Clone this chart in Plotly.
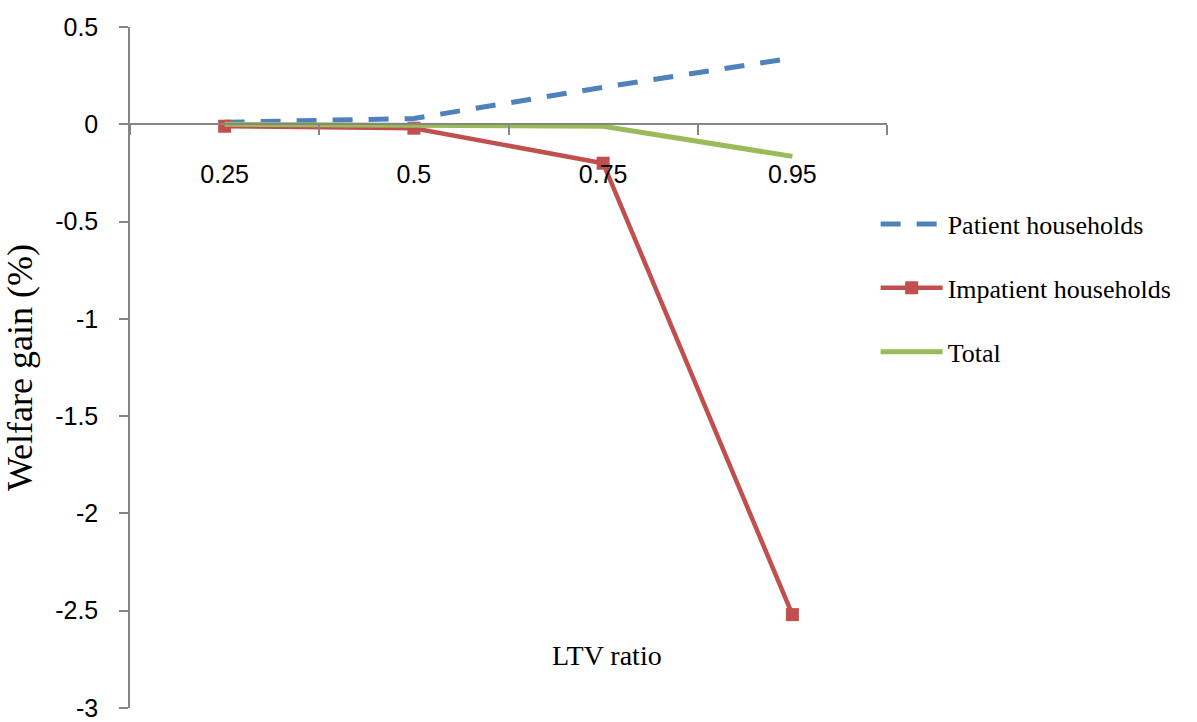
import plotly.graph_objects as go

# LTV ratio categories and welfare gains (%)
ltv_labels = ["0.25", "0.5", "0.75", "0.95"]
patient = [0.01, 0.03, 0.19, 0.34]
impatient = [-0.01, -0.02, -0.20, -2.52]
total = [0.0, -0.005, -0.01, -0.165]

y_ticks = [0.5, 0, -0.5, -1, -1.5, -2, -2.5, -3]
y_tick_text = ["0.5", "0", "-0.5", "-1", "-1.5", "-2", "-2.5", "-3"]

BLUE = "#4F81BD"
RED = "#C0504D"
GREEN = "#9BBB59"
AXIS = "#868686"

fig = go.Figure()
fig.add_trace(go.Scatter(
    x=ltv_labels, y=patient, mode="lines", name="Patient households",
    line=dict(color=BLUE, width=5, dash="20px,16px"),
    legendgroup="a",
))
fig.add_trace(go.Scatter(
    x=ltv_labels, y=impatient, mode="lines+markers", name="Impatient households",
    line=dict(color=RED, width=4.5),
    marker=dict(symbol="square", size=13, color=RED),
    legendgroup="b",
))
fig.add_trace(go.Scatter(
    x=ltv_labels, y=total, mode="lines", name="Total",
    line=dict(color=GREEN, width=5),
    legendgroup="c",
))

y_min, y_max = -3, 0.5
zero_pos = (0 - y_min) / (y_max - y_min)

fig.update_layout(
    width=1197, height=722,
    margin=dict(l=130, r=310, t=27, b=14),
    paper_bgcolor="white", plot_bgcolor="white",
    showlegend=True,
    legend=dict(
        x=0.985, xanchor="left", y=0.745, yanchor="top",
        font=dict(family="Liberation Serif", size=26, color="black"),
        traceorder="grouped", tracegroupgap=27,
        itemwidth=62, bgcolor="rgba(0,0,0,0)",
    ),
    xaxis=dict(
        type="category", range=[-0.5, 3.5],
        anchor="free", position=zero_pos, automargin=False,
        showline=True, linecolor=AXIS, linewidth=1.5,
        ticks="outside", tickson="boundaries", ticklen=10, tickcolor=AXIS, tickwidth=1.5,
        ticklabelstandoff=28,
        tickfont=dict(family="Liberation Sans", size=25, color="black"),
        showgrid=False, zeroline=False,
    ),
    yaxis=dict(
        range=[y_min, y_max], automargin=False,
        tickvals=y_ticks, ticktext=y_tick_text,
        showline=True, linecolor=AXIS, linewidth=1.5,
        ticks="outside", ticklen=9, tickcolor=AXIS, tickwidth=1.5,
        ticklabelstandoff=16,
        tickfont=dict(family="Liberation Sans", size=25, color="black"),
        showgrid=False, zeroline=False,
        title=dict(text="Welfare gain (%)", standoff=12,
                   font=dict(family="Liberation Serif", size=36, color="black")),
    ),
    annotations=[dict(
        text="LTV ratio", xref="paper", yref="paper",
        x=(607 - 130) / (887 - 130), y=(708 - 655) / (708 - 27),
        xanchor="center", yanchor="middle", showarrow=False,
        font=dict(family="Liberation Serif", size=28, color="black"),
    )],
)

fig.write_html("out.html")
